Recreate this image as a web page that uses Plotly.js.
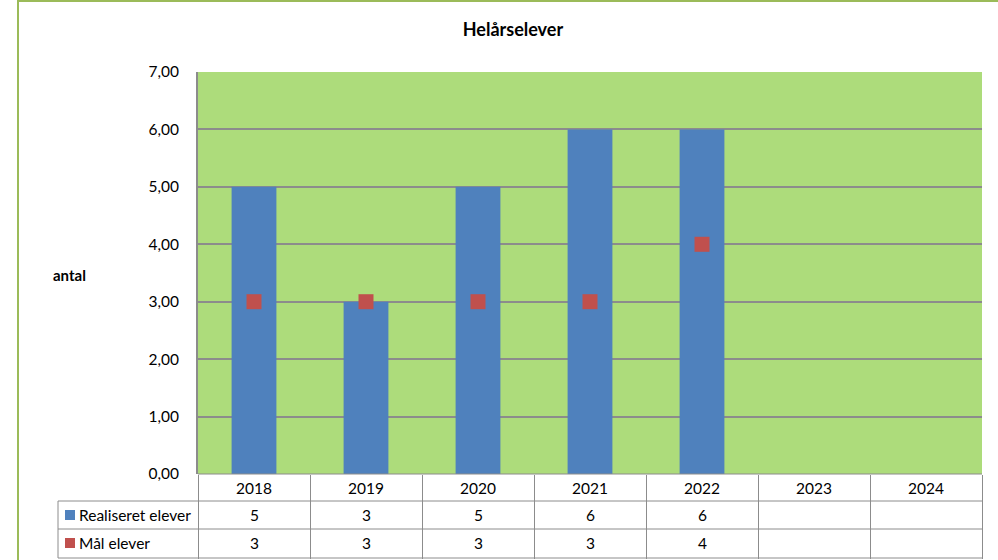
<!DOCTYPE html>
<html>
<head>
<meta charset="utf-8">
<script src="https://cdn.plot.ly/plotly-3.0.1.min.js"></script>
<style>
html,body{margin:0;padding:0;background:#fff;}
#chart{width:998px;height:560px;}
</style>
</head>
<body>
<div id="chart"></div>
<script>
// ---- data ----
var years = ["2018", "2019", "2020", "2021", "2022", "2023", "2024"];
var realiseret = [5, 3, 5, 6, 6, null, null];
var maal = [3, 3, 3, 3, 4, null, null];
var seriesNames = ["Realiseret elever", "Mål elever"];
var chartTitle = "Helårselever";
var yTitle = "antal";

// ---- layout geometry helpers ----
var W = 998, H = 560;
var L = 198, R = 982, T = 72, B = 474;
var pw = R - L, ph = B - T;
function px(x) { return (x - L) / pw; }
function py(y) { return (B - y) / ph; }

var FONT = "Lato, 'Liberation Sans', sans-serif";
var FS = 15.5;
var blue = "#4f81bd", red = "#c0504d", gridc = "#8c8c8c", tablec = "#8c8c8c";

var traces = [
  {
    type: "bar", x: years, y: realiseret, name: seriesNames[0],
    marker: { color: blue }, hoverinfo: "x+y"
  },
  {
    type: "scatter", mode: "markers", x: years, y: maal, name: seriesNames[1],
    marker: { color: red, symbol: "square", size: 15, line: { width: 0 } }, hoverinfo: "x+y"
  }
];

var rowY = [501, 529, 558];
var shapes = [];
// outer green border
shapes.push({ type: "rect", xref: "paper", yref: "paper",
  x0: px(18), x1: px(1010), y0: py(1), y1: py(575),
  line: { color: "#9bbb59", width: 2 }, fillcolor: "rgba(0,0,0,0)", layer: "below" });
// table horizontal lines
shapes.push({ type: "line", xref: "paper", yref: "paper", x0: 0, x1: 1, y0: py(474), y1: py(474), line: { color: tablec, width: 1 } });
rowY.forEach(function (yy) {
  shapes.push({ type: "line", xref: "paper", yref: "paper", x0: px(58), x1: 1, y0: py(yy), y1: py(yy), line: { color: tablec, width: 1 } });
});
// left edge of legend column
shapes.push({ type: "line", xref: "paper", yref: "paper", x0: px(58), x1: px(58), y0: py(501), y1: py(558), line: { color: tablec, width: 1 } });
// legend keys
[[blue, 515], [red, 543]].forEach(function (k) {
  shapes.push({ type: "rect", xref: "paper", yref: "paper",
    x0: px(65), x1: px(75), y0: py(k[1] - 5), y1: py(k[1] + 5),
    fillcolor: k[0], line: { width: 0 } });
});

var annotations = [];
function txt(o) {
  o.showarrow = false;
  o.yanchor = o.yanchor || "middle";
  o.xanchor = o.xanchor || "center";
  o.font = o.font || { family: FONT, size: FS, color: "#000" };
  annotations.push(o);
}
// y axis title
txt({ xref: "paper", yref: "paper", x: px(69), y: py(275), text: "<b>" + yTitle + "</b>",
  font: { family: FONT, size: 15, color: "#000" } });
// header years and values (x = category index on the x axis)
years.forEach(function (yr, i) {
  txt({ xref: "x", yref: "paper", x: i, y: py(488), text: yr });
  if (realiseret[i] !== null) txt({ xref: "x", yref: "paper", x: i, y: py(515), text: String(realiseret[i]) });
  if (maal[i] !== null) txt({ xref: "x", yref: "paper", x: i, y: py(543), text: String(maal[i]) });
});
// series labels
[[seriesNames[0], 515], [seriesNames[1], 543]].forEach(function (s) {
  txt({ xref: "paper", yref: "paper", x: px(77), y: py(s[1]), xanchor: "left", text: s[0] });
});

var layout = {
  width: W, height: H,
  margin: { l: L, r: W - R, t: T, b: H - B, pad: 0 },
  paper_bgcolor: "#ffffff",
  plot_bgcolor: "#addc7b",
  showlegend: false,
  bargap: 0.6,
  title: { text: "<b>" + chartTitle + "</b>", xref: "container", x: 0.514, xanchor: "center",
    yref: "container", y: 1 - 30 / H, yanchor: "middle",
    font: { family: FONT, size: 18, color: "#000" } },
  xaxis: {
    type: "category", range: [-0.5, 6.5], fixedrange: true,
    showticklabels: false, showgrid: false, zeroline: false,
    ticks: "outside", tickson: "boundaries", ticklen: 84, tickcolor: tablec, tickwidth: 1,
    showline: false
  },
  yaxis: {
    range: [0, 7], dtick: 1, tick0: 0, tickformat: ".2f",
    showgrid: true, gridcolor: gridc, gridwidth: 2,
    zeroline: false, showline: true, linecolor: gridc, linewidth: 2,
    ticks: "", ticklabelstandoff: 14,
    tickfont: { family: FONT, size: FS, color: "#000" }
  },
  separators: ",.",
  shapes: shapes,
  annotations: annotations
};

Plotly.newPlot("chart", traces, layout, { displayModeBar: false, staticPlot: true });
</script>
</body>
</html>
